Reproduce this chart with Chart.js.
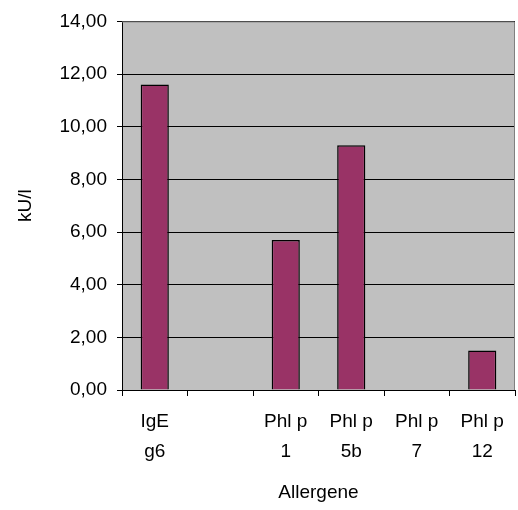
<!DOCTYPE html>
<html>
<head>
<meta charset="utf-8">
<script src="https://cdn.jsdelivr.net/npm/chart.js@4.4.1/dist/chart.umd.min.js"></script>
<style>
  html, body { margin: 0; padding: 0; background: #fff; }
  #wrap { width: 518px; height: 510px; }
</style>
</head>
<body>
<div id="wrap"><canvas id="allergenChart" width="518" height="510"></canvas></div>
<script>
// Chart data
const categories = [["IgE", "g6"], ["", ""], ["Phl p", "1"], ["Phl p", "5b"], ["Phl p", "7"], ["Phl p", "12"]];
const values = [11.6, 0, 5.7, 9.3, 0, 1.5];
const yTicks = [0, 2, 4, 6, 8, 10, 12, 14];

const font = "'Liberation Sans', Arial, sans-serif";

// Grey plot background plus grey top/right border
const plotFrame = {
    id: "plotFrame",
    beforeDraw(chart) {
        const { ctx, chartArea: a } = chart;
        ctx.save();
        ctx.fillStyle = "#c0c0c0";
        ctx.fillRect(a.left, a.top, a.right - a.left, a.bottom - a.top);
        ctx.restore();
    },
    afterDraw(chart) {
        const { ctx, chartArea: a } = chart;
        ctx.save();
        ctx.strokeStyle = "#808080";
        ctx.lineWidth = 1;
        ctx.beginPath();
        ctx.moveTo(a.left, a.top + 0.5);
        ctx.lineTo(a.right - 0.5, a.top + 0.5);
        ctx.lineTo(a.right - 0.5, a.bottom);
        ctx.stroke();
        ctx.restore();
    },
};

document.addEventListener("DOMContentLoaded", () => {
    const ctx = document.getElementById("allergenChart");

    new Chart(ctx, {
        type: "bar",
        data: {
            labels: categories,
            datasets: [
                {
                    data: values,
                    backgroundColor: "#993366",
                    borderColor: "#000000",
                    borderWidth: 1.5,
                    categoryPercentage: 1,
                    barPercentage: 0.43,
                },
            ],
        },
        options: {
            responsive: false,
            animation: false,
            layout: {
                padding: { top: 18, right: 3, left: 0, bottom: 0 },
            },
            plugins: {
                legend: { display: false },
                tooltip: { enabled: false },
            },
            scales: {
                x: {
                    afterFit: (scale) => { scale.height = 120; },
                    grid: {
                        offset: true,
                        drawOnChartArea: false,
                        drawTicks: true,
                        tickLength: 6,
                        color: "#000000",
                    },
                    border: { color: "#000000" },
                    ticks: {
                        color: "#000000",
                        maxRotation: 0,
                        autoSkip: false,
                        padding: 11,
                        font: { family: font, size: 19, lineHeight: 1.58 },
                    },
                    title: {
                        display: true,
                        text: "Allergene",
                        color: "#000000",
                        padding: { top: 0, bottom: 6 },
                        font: { family: font, size: 19 },
                    },
                },
                y: {
                    min: 0,
                    max: 14,
                    afterFit: (scale) => { scale.width = 122; },
                    afterBuildTicks: (scale) => {
                        scale.ticks = yTicks.map((v) => ({ value: v }));
                    },
                    grid: {
                        color: "#000000",
                        tickLength: 5,
                    },
                    border: { color: "#000000" },
                    ticks: {
                        color: "#000000",
                        padding: 10,
                        font: { family: font, size: 19 },
                        callback: (v) => v.toFixed(2).replace(".", ","),
                    },
                    title: {
                        display: true,
                        text: "kU/l",
                        color: "#000000",
                        padding: { top: 14, bottom: 0 },
                        font: { family: font, size: 19 },
                    },
                },
            },
        },
        plugins: [plotFrame],
    });
});
</script>
</body>
</html>
